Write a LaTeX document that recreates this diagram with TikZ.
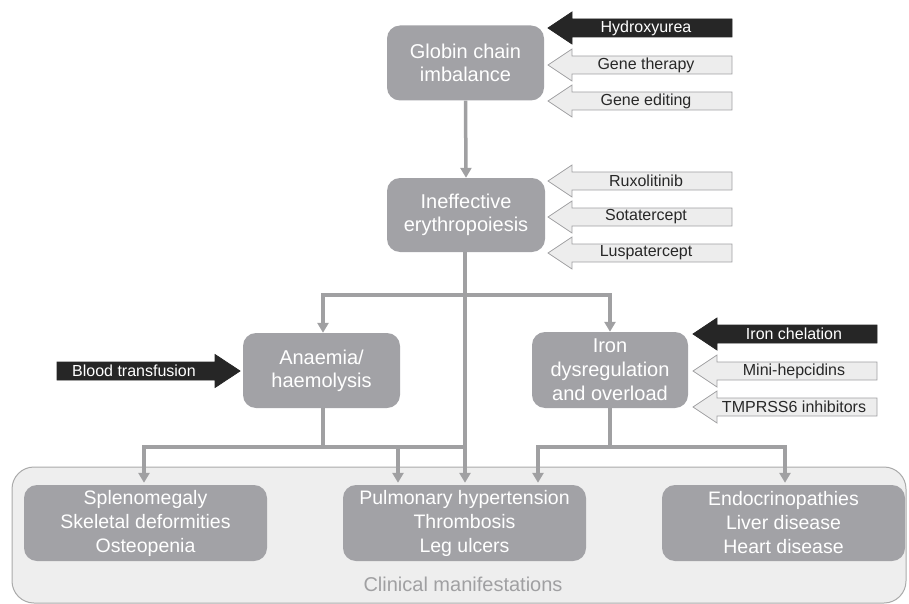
\documentclass[tikz,border=0pt]{standalone}
\usepackage{fontspec}
\setmainfont{Liberation Sans}
\usetikzlibrary{arrows.meta}
\definecolor{boxgray}{RGB}{162,162,166}
\definecolor{linegray}{RGB}{160,160,162}
\definecolor{panelfill}{RGB}{238,238,238}
\definecolor{panelline}{RGB}{170,170,170}
\definecolor{lightfill}{RGB}{237,237,237}
\definecolor{darkfill}{RGB}{38,38,38}
\definecolor{textdark}{RGB}{40,40,40}
\tikzset{
  mainbox/.style={fill=boxgray, draw=none, rounded corners=13pt, text=white, align=center,
    font=\fontsize{20}{23}\selectfont, inner sep=0pt},
  outbox/.style={fill=boxgray, draw=none, rounded corners=13pt, text=white, align=center,
    font=\fontsize{19.5}{24}\selectfont, inner sep=0pt, minimum width=243pt, minimum height=76pt},
  flow/.style={draw=linegray, line width=3.5pt},
  flowarr/.style={flow, -{Triangle[length=10pt,width=11pt]}},
  lightarr/.style={fill=lightfill, draw=linegray, line width=0.8pt},
  darkarr/.style={fill=darkfill, draw=darkfill, line width=0.8pt},
  lightlbl/.style={text=textdark, font=\fontsize{16}{18}\selectfont, inner sep=0pt},
  darklbl/.style={text=white, font=\fontsize{16}{18}\selectfont, inner sep=0pt},
}
% left-pointing block arrow: name, tipx, y, endx, shape style, label x, label style, text
\newcommand{\blockL}[8]{%
  \draw[#5] (#2,#3) -- (#2+24,#3-16) -- (#2+24,#3-9) -- (#4,#3-9) -- (#4,#3+9)
    -- (#2+24,#3+9) -- (#2+24,#3+16) -- cycle;
  \node[#7] (#1) at (#6,#3) {#8};}
\begin{document}
\begin{tikzpicture}[x=1pt,y=-1pt]
\useasboundingbox (0,0) rectangle (909,604);
% panel
\draw[fill=panelfill, draw=panelline, line width=1pt, rounded corners=22pt] (12,467) rectangle (906,603);
\node[text=linegray, font=\fontsize{20}{23}\selectfont] (clin) at (463,584) {Clinical manifestations};
% main boxes
\node[mainbox, minimum width=157pt, minimum height=75pt] (globin) at (465.5,63) {Globin chain\\imbalance};
\node[mainbox, minimum width=158pt, minimum height=74pt] (ineff) at (466,215) {Ineffective\\erythropoiesis};
\node[mainbox, minimum width=157pt, minimum height=75pt] (anaem) at (321.5,370.5) {Anaemia/\\haemolysis};
\node[mainbox, minimum width=156pt, minimum height=76pt, font=\fontsize{20}{24}\selectfont] (iron) at (610,370) {Iron\\dysregulation\\and overload};
% outcome boxes
\node[outbox] (skel) at (145.5,523) {Splenomegaly\\Skeletal deformities\\Osteopenia};
\node[outbox] (pulm) at (464.5,523) {Pulmonary hypertension\\Thrombosis\\Leg ulcers};
\node[outbox] (endo) at (783.5,523) {Endocrinopathies\\Liver disease\\Heart disease};
% junction coordinates
\coordinate (jA) at (323,295);
\coordinate (jI) at (610,295);
\coordinate (jL) at (144,447);
\coordinate (jR) at (538,447);
\coordinate (jE) at (785,447);
% connectors
\draw[flowarr] (globin.south) -- (ineff.north);
\draw[flowarr, shorten >=2pt] (ineff.south -| 465,0) -- (pulm.north -| 465,0);
\draw[flowarr] (jA) -- (jI) -- (iron.north -| jI);
\draw[flowarr] (jI -| 465,0) -- (jA) -- (anaem.north -| jA);
\draw[flow] (anaem.south -| jA) -- (jA |- jL);
\draw[flowarr, shorten >=2pt] (465,447) -- (jL) -- (skel.north -| jL);
\draw[flowarr, shorten >=2pt] (398,447) -- (pulm.north -| 398,0);
\draw[flow] (iron.south) -- (jI |- jR);
\draw[flowarr, shorten >=2pt] (jI |- jR) -- (jR) -- (pulm.north -| jR);
\draw[flowarr, shorten >=2pt] (jI |- jR) -- (jE) -- (endo.north -| jE);
% treatment arrows
\blockL{hydroxy}{548}{28}{732}{darkarr}{646}{darklbl}{Hydroxyurea}
\blockL{genether}{548}{65}{732}{lightarr}{646}{lightlbl}{Gene therapy}
\blockL{geneedit}{548}{101}{732}{lightarr}{646}{lightlbl}{Gene editing}
\blockL{ruxo}{548}{181}{732}{lightarr}{646}{lightlbl}{Ruxolitinib}
\blockL{sota}{548}{217}{732}{lightarr}{646}{lightlbl}{Sotatercept}
\blockL{lusp}{548}{253}{732}{lightarr}{646}{lightlbl}{Luspatercept}
\blockL{chel}{693}{334}{877}{darkarr}{794}{darklbl}{Iron chelation}
\blockL{mini}{693}{371}{877}{lightarr}{794}{lightlbl}{Mini-hepcidins}
\blockL{tmprss}{693}{407}{877}{lightarr}{794}{lightlbl}{TMPRSS6 inhibitors}
% blood transfusion (right-pointing)
\draw[darkarr] (240,371) -- (215,354.5) -- (215,362) -- (57,362) -- (57,380) -- (215,380) -- (215,387.5) -- cycle;
\node[darklbl] (blood) at (134,371) {Blood transfusion};
\end{tikzpicture}
\end{document}
